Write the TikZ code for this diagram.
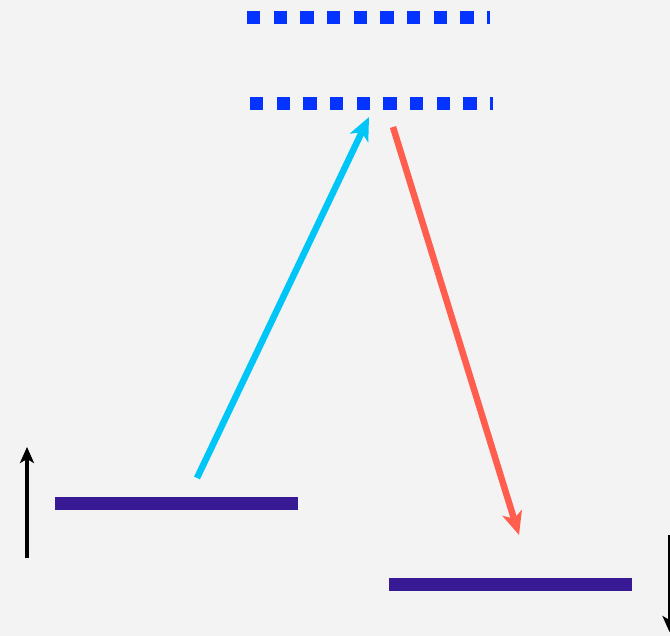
\documentclass[tikz,border=0pt]{standalone}
\usetikzlibrary{arrows.meta}
\definecolor{paper}{HTML}{F3F3F3}
\definecolor{levelblue}{HTML}{0433FF}
\definecolor{bargray}{HTML}{371A94}
\definecolor{absorb}{HTML}{00C6F8}
\definecolor{emit}{HTML}{FF5E4E}
\tikzset{
  virtual/.style={levelblue, line width=13pt, dash pattern=on 13.3pt off 13.37pt},
  level/.style={bargray, line width=13pt},
  transition/.style={line width=6.5pt, -{Stealth[length=23pt,width=20pt,inset=6pt]}},
  axisarrow/.style={black, line width=3.5pt, -{Stealth[length=16pt,width=14pt,inset=4pt]}}
}
\begin{document}
\begin{tikzpicture}[x=1pt,y=-1pt]
  \fill[paper] (0,0) rectangle (670,636);
  \useasboundingbox (0,0) rectangle (670,636);
  \clip (0,0) rectangle (670,636);
  % virtual levels
  \coordinate (v1a) at (247,18);
  \coordinate (v1b) at (490,18);
  \coordinate (v2a) at (250,103.5);
  \coordinate (v2b) at (493,103.5);
  \draw[virtual] (v1a) -- (v1b);
  \draw[virtual] (v2a) -- (v2b);
  % real levels
  \coordinate (g1a) at (55,503.5);
  \coordinate (g1b) at (298,503.5);
  \coordinate (g2a) at (389,584);
  \coordinate (g2b) at (632,584);
  \draw[level] (g1a) -- (g1b);
  \draw[level] (g2a) -- (g2b);
  % transitions
  \coordinate (absStart) at (197,478);
  \coordinate (absEnd) at (369,117);
  \coordinate (emStart) at (393,127);
  \coordinate (emEnd) at (519,535);
  \draw[transition, absorb] (absStart) -- (absEnd);
  \draw[transition, emit] (emStart) -- (emEnd);
  % axis arrows
  \coordinate (axL0) at (27,558);
  \coordinate (axL1) at (27,447);
  \draw[axisarrow] (axL0) -- (axL1);
  \coordinate (axR0) at (669.5,535);
  \coordinate (axR1) at (669.5,632);
  \draw[axisarrow] (axR0) -- (axR1);
\end{tikzpicture}
\end{document}
